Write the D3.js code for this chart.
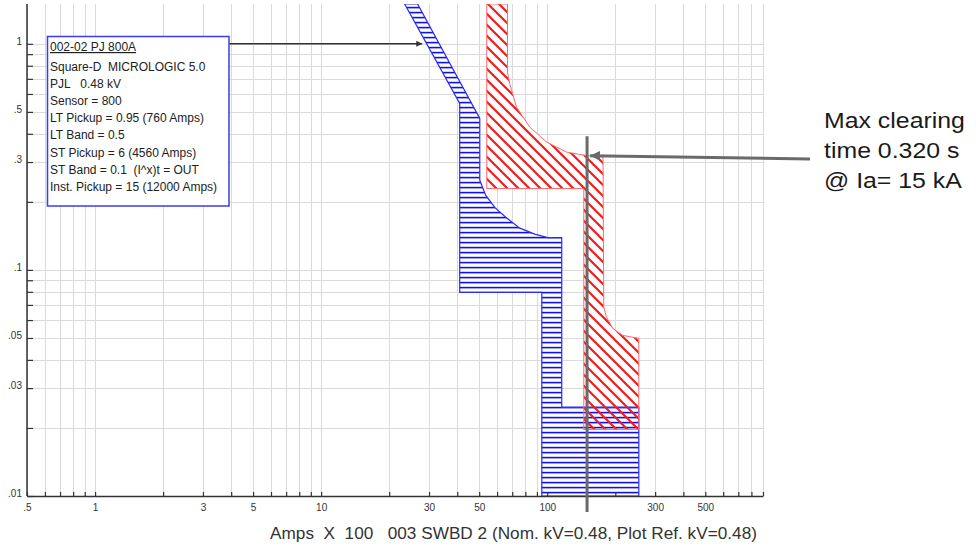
<!DOCTYPE html>
<html>
<head>
<meta charset="utf-8">
<script src="https://cdn.jsdelivr.net/npm/d3@7"></script>
<style>
  html, body { margin: 0; padding: 0; background: #fff; }
  svg { display: block; font-family: "Liberation Sans", Arial, sans-serif; }
</style>
</head>
<body>
<svg id="chart" width="976" height="546"></svg>
<script>
// Time-current coordination plot: current in Amps x 100, time in seconds.
const xTickLabels = [0.5, 1, 3, 5, 10, 30, 50, 100, 300, 500];
const yTickLabels = [1, 0.5, 0.3, 0.1, 0.05, 0.03, 0.01];

// 002-02 PJ 800A trip band (minimum and maximum edges, [amps x 100, seconds])
const breakerMinCurve = [[23.4, 1.5], [41.0, 0.545], [41.0, 0.0795], [94.6, 0.0795], [94.6, 0.01]];
const breakerMaxCurve = [[26.7, 1.5], [50.3, 0.468], [50.3, 0.249], [53.4, 0.214], [58.6, 0.189],
  [65.5, 0.171], [75.6, 0.153], [88.1, 0.144], [100.5, 0.139], [115.9, 0.139], [115.9, 0.0247],
  [254.1, 0.0247], [254.1, 0.01]];

// Second protective device band
const deviceMinCurve = [[54.0, 1.5], [54.0, 0.229], [145.1, 0.229], [145.1, 0.0197], [254.1, 0.0197]];
const deviceMaxCurve = [[66.7, 1.5], [66.7, 0.750], [68.2, 0.667], [73.1, 0.525], [83.7, 0.428],
  [99.2, 0.368], [121.6, 0.332], [150, 0.320], [176.5, 0.316], [177.8, 0.0684], [182.8, 0.0618],
  [195, 0.0551], [216, 0.0513], [254.1, 0.0498], [254.1, 0.0197]];

// Fault current marker (15 kA) and the clearing time it reads off
const faultCurrent = 150;
const maxClearingTime = 0.320;
const markerTopTime = 0.39;
const legendArrowTarget = [28, 1];

const legendTitle = "002-02 PJ 800A";
const legendLines = [
  "Square-D  MICROLOGIC 5.0",
  "PJL   0.48 kV",
  "Sensor = 800",
  "LT Pickup = 0.95 (760 Amps)",
  "LT Band = 0.5",
  "ST Pickup = 6 (4560 Amps)",
  "ST Band = 0.1  (I^x)t = OUT",
  "Inst. Pickup = 15 (12000 Amps)"
];
const annotationLines = ["Max clearing", "time 0.320 s", "@ Ia= 15 kA"];
const axisTitle = "Amps  X  100   003 SWBD 2 (Nom. kV=0.48, Plot Ref. kV=0.48)";

const svg = d3.select("#chart");
const plot = { left: 27, right: 763, top: 4, bottom: 496 };

const x = d3.scaleLog().domain([0.5, 900]).range([plot.left, plot.right]);
const y = d3.scaleLog().domain([0.01, 1.5]).range([plot.bottom, plot.top]);

const fmt = d => (d < 1 ? String(d).replace(/^0/, "") : String(d));

// Patterns for the hatched bands
const defs = svg.append("defs");
const blueP = defs.append("pattern").attr("id", "hatchBlue")
  .attr("patternUnits", "userSpaceOnUse").attr("width", 8).attr("height", 5);
blueP.append("rect").attr("x", 0).attr("y", 1.8).attr("width", 8).attr("height", 1.6).attr("fill", "#1010ee");

const redP = defs.append("pattern").attr("id", "hatchRed")
  .attr("patternUnits", "userSpaceOnUse").attr("width", 11).attr("height", 11);
redP.append("path")
  .attr("d", "M0,0 L11,11 M-2.75,8.25 L2.75,13.75 M8.25,-2.75 L13.75,2.75")
  .attr("stroke", "#f21c1c").attr("stroke-width", 2.2).attr("fill", "none");

defs.append("clipPath").attr("id", "plotClip").append("rect")
  .attr("x", plot.left).attr("y", plot.top)
  .attr("width", plot.right - plot.left).attr("height", plot.bottom - plot.top);

const arrowGray = defs.append("marker").attr("id", "arrowGray")
  .attr("markerUnits", "userSpaceOnUse").attr("viewBox", "0 0 10 10")
  .attr("refX", 10).attr("refY", 5).attr("markerWidth", 10).attr("markerHeight", 10)
  .attr("orient", "auto");
arrowGray.append("path").attr("d", "M0,0 L10,5 L0,10 Z").attr("fill", "#6a6a6a");

const arrowDark = defs.append("marker").attr("id", "arrowDark")
  .attr("markerUnits", "userSpaceOnUse").attr("viewBox", "0 0 10 10")
  .attr("refX", 10).attr("refY", 5).attr("markerWidth", 7).attr("markerHeight", 6)
  .attr("orient", "auto");
arrowDark.append("path").attr("d", "M0,0 L10,5 L0,10 Z").attr("fill", "#333");

// Grid
const grid = svg.append("g").attr("stroke", "#dadada").attr("stroke-width", 1);
grid.selectAll("line.v").data(x.ticks()).join("line")
  .attr("x1", d => Math.round(x(d)) + 0.5).attr("x2", d => Math.round(x(d)) + 0.5)
  .attr("y1", plot.top).attr("y2", plot.bottom);
grid.selectAll("line.h").data(y.ticks()).join("line")
  .attr("x1", plot.left).attr("x2", plot.right)
  .attr("y1", d => Math.round(y(d)) + 0.5).attr("y2", d => Math.round(y(d)) + 0.5);

// Bands
const line = d3.line().x(d => x(d[0])).y(d => y(d[1]));
const bandPoints = (minC, maxC) => minC.concat(maxC.slice().reverse());
const bands = [
  { pts: bandPoints(breakerMinCurve, breakerMaxCurve), fill: "url(#hatchBlue)", stroke: "#2a2af0", sw: 1.2 },
  { pts: bandPoints(deviceMinCurve, deviceMaxCurve), fill: "url(#hatchRed)", stroke: "#ff6a6a", sw: 1 }
];
const bandG = svg.append("g").attr("clip-path", "url(#plotClip)");
bandG.selectAll("path.bg").data(bands).join("path")
  .attr("d", d => line(d.pts) + "Z").attr("fill", "#fff");
bandG.selectAll("path.hatch").data(bands).join("path")
  .attr("d", d => line(d.pts) + "Z").attr("fill", d => d.fill)
  .attr("stroke", d => d.stroke).attr("stroke-width", d => d.sw);

// Axes
const xAxis = d3.axisBottom(x).tickValues(x.ticks()).tickSize(-4).tickSizeOuter(0).tickPadding(7.5)
  .tickFormat(d => (xTickLabels.some(v => Math.abs(v - d) < 1e-9) ? fmt(d) : ""));
const gx = svg.append("g").attr("transform", `translate(0,${plot.bottom})`).call(xAxis);
const yAxis = d3.axisLeft(y).tickValues(y.ticks()).tickSize(-6).tickSizeOuter(0).tickPadding(5)
  .tickFormat(d => (yTickLabels.some(v => Math.abs(v - d) < 1e-9) ? fmt(d) : ""));
const gy = svg.append("g").attr("transform", `translate(${plot.left},0)`).call(yAxis);
[gx, gy].forEach(g => {
  g.select(".domain").attr("stroke", "#333").attr("stroke-width", 1.5);
  g.selectAll(".tick line").attr("stroke", "#333").attr("stroke-width", 1.2);
  g.selectAll(".tick text").attr("fill", "#333").attr("font-size", 10)
    .attr("font-family", "'Liberation Sans', Arial, sans-serif");
});
gy.selectAll(".tick text").attr("dy", "0.05em");
// the y axis extends to the top of the plot
gy.select(".domain").attr("d", `M0,${plot.top}V${plot.bottom}`);

// Axis title
svg.append("text").attr("x", 270).attr("y", 539)
  .attr("font-size", 16.5).attr("fill", "#333").style("white-space", "pre")
  .text(axisTitle)
  .each(function () {
    const w = this.getComputedTextLength();
    const s = 487 / w;
    d3.select(this).attr("transform", `translate(270,539) scale(${s},1) translate(-270,-539)`);
  });

// Fault current marker line and annotation
svg.append("line")
  .attr("x1", x(faultCurrent)).attr("x2", x(faultCurrent))
  .attr("y1", y(markerTopTime)).attr("y2", plot.bottom + 16)
  .attr("stroke", "#6a6a6a").attr("stroke-width", 3);
svg.append("line")
  .attr("x1", 810).attr("y1", 159)
  .attr("x2", x(faultCurrent) + 3).attr("y2", y(maxClearingTime))
  .attr("stroke", "#6a6a6a").attr("stroke-width", 3)
  .attr("marker-end", "url(#arrowGray)");

const ann = svg.append("g").attr("fill", "#1a1a1a");
annotationLines.forEach((t, i) => {
  ann.append("text")
    .attr("transform", `translate(824,${128 + i * 30}) scale(1.13,1)`)
    .attr("font-size", 22).style("white-space", "pre").text(t);
});

// Legend box for the breaker settings
svg.append("line")
  .attr("x1", 229).attr("y1", y(legendArrowTarget[1]))
  .attr("x2", x(legendArrowTarget[0])).attr("y2", y(legendArrowTarget[1]))
  .attr("stroke", "#333").attr("stroke-width", 1.4)
  .attr("marker-end", "url(#arrowDark)");
svg.append("rect").attr("x", 47.5).attr("y", 36.5).attr("width", 181.5).attr("height", 169.5)
  .attr("fill", "#fff").attr("stroke", "#3b3bf0").attr("stroke-width", 1.5);
const lg = svg.append("g").attr("font-size", 12).attr("fill", "#222");
lg.append("text").attr("x", 50).attr("y", 51).attr("text-decoration", "underline")
  .style("white-space", "pre").text(legendTitle);
legendLines.forEach((t, i) => {
  lg.append("text").attr("x", 50).attr("y", 71 + i * 17.1).style("white-space", "pre").text(t);
});
</script>
</body>
</html>
